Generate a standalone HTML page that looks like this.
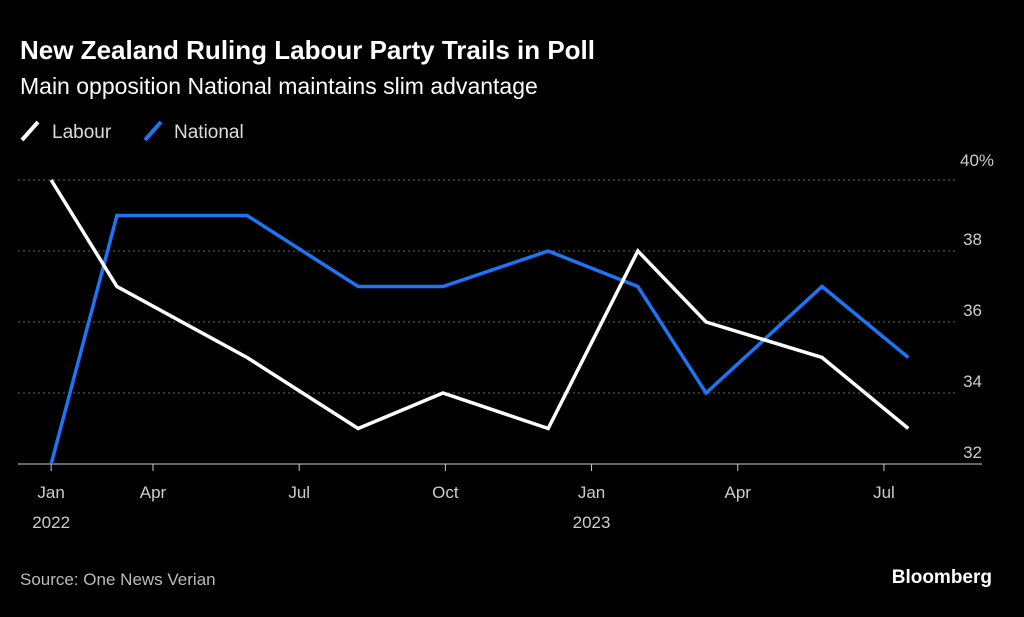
<!DOCTYPE html>
<html><head><meta charset="utf-8"><style>
body{margin:0;background:#000;width:1024px;height:612px;overflow:hidden;font-family:"Liberation Sans",sans-serif;color:#fff}
</style></head><body>
<svg width="1024" height="612">
<text x="20" y="59" font-size="26" font-weight="bold" fill="#fff">New Zealand Ruling Labour Party Trails in Poll</text>
<text x="20" y="94" font-size="23" fill="#fff">Main opposition National maintains slim advantage</text>
<g>
<line x1="22" y1="140" x2="38" y2="122" stroke="#fff" stroke-width="4"/>
<text x="52" y="138" font-size="19" fill="#ddd">Labour</text>
<line x1="145" y1="140" x2="161" y2="122" stroke="#1d74f5" stroke-width="4"/>
<text x="174" y="138" font-size="19" fill="#ddd">National</text>
</g>
<g id="grid"></g><g id="xaxis"></g><g id="series"></g>
<text x="20" y="585" font-size="17" fill="#bbb">Source: One News Verian</text>
<text x="992" y="583" font-size="19" font-weight="bold" fill="#fff" text-anchor="end">Bloomberg</text>
</svg>
<script>
const months=[0.91,2.26,4.93,7.21,8.95,11.11,12.95,14.35,16.73,18.5];
const labour=[40,37,35,33,34,33,38,36,35,33];
const national=[32,39,39,37,37,38,37,34,37,35];
const yTicks=[32,34,36,38,40];
const yLabels=["32","34","36","38","40%"];
const xTicks=[0.91,3,6,9,12,15,18];
const xLabels=[["Jan","2022"],["Apr",""],["Jul",""],["Oct",""],["Jan","2023"],["Apr",""],["Jul",""]];
const NS="http://www.w3.org/2000/svg";
const X=m=>6.8+m*48.73, Y=v=>464-(v-32)*35.5;
function mk(t,a,p){const e=document.createElementNS(NS,t);for(const k in a)e.setAttribute(k,a[k]);p.appendChild(e);return e;}
const g=document.getElementById('grid');
yTicks.forEach((v,i)=>{
 if(v!==32){const l=mk('line',{x1:18,x2:958,y1:Y(v),y2:Y(v),stroke:'#666','stroke-dasharray':'2,3'},g);
 
 }
 const t=mk('text',{x:v===40?960:982,y:Y(v)-(v===40?14:6),'font-size':17,fill:'#ccc','text-anchor':v===40?'start':'end'},g);
 t.textContent=yLabels[i];
 
 
});
const xa=document.getElementById('xaxis');
const b=mk('line',{x1:18,x2:982,y1:464,y2:464,stroke:'#ccc','stroke-width':1},xa);


xTicks.forEach((m,i)=>{
 const tk=mk('line',{x1:X(m),x2:X(m),y1:464,y2:471,stroke:'#ccc'},xa);
 
 
 xLabels[i].forEach((s,j)=>{if(!s)return;
  const t=mk('text',{x:X(m),y:498+j*30,'font-size':17,fill:'#ccc','text-anchor':'middle'},xa);
  t.textContent=s;
  
  });
});
const sg=document.getElementById('series');
[[national,'#1d74f5','national-line'],[labour,'#fff','labour-line']].forEach(([d,c,n])=>{
 const p=mk('polyline',{points:d.map((v,i)=>X(months[i])+','+Y(v)).join(' '),fill:'none',stroke:c,'stroke-width':3.5,'stroke-linejoin':'miter'},sg);
 
 
});
</script>
</body></html>
